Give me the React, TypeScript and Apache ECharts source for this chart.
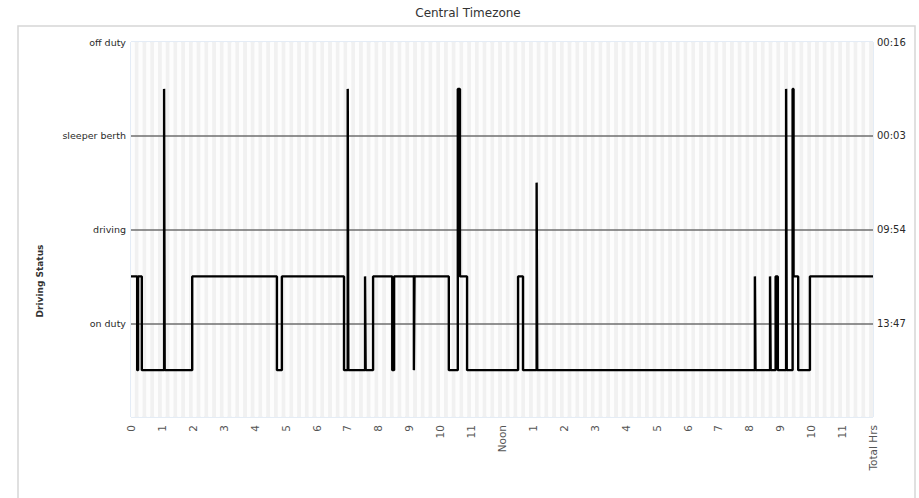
import React, { useEffect, useRef } from "react";
import * as echarts from "echarts";

// Hour labels for the x axis (0..24)
const hourLabels = [
  "0", "1", "2", "3", "4", "5", "6", "7", "8", "9", "10", "11",
  "Noon", "1", "2", "3", "4", "5", "6", "7", "8", "9", "10", "11", "Total Hrs",
];

// Status names on the left axis (value 1..4)
const statusLabels = ["", "on duty", "driving", "sleeper berth", "off duty"];
// Totals on the right axis (value 1..4)
const totalLabels = ["", "13:47", "09:54", "00:03", "00:16"];

// Step line: time (hours) at which the level changes, and the level from that time on
const changeTimes = [
  0, 0.2, 0.23, 0.35, 1.07, 1.09, 1.98, 4.72, 4.88, 6.89, 7.01, 7.03, 7.57, 7.59,
  7.83, 8.45, 8.51, 9.15, 9.17, 10.28, 10.57, 10.64, 10.87, 12.52, 12.68, 13.12,
  13.14, 20.18, 20.2, 20.67, 20.69, 20.85, 20.92, 21.19, 21.21, 21.4, 21.43,
  21.58, 21.96, 24,
];
const changeLevels = [
  1.5, 0.5, 1.5, 0.5, 3.5, 0.5, 1.5, 0.5, 1.5, 0.5, 3.5, 0.5, 1.5, 0.5,
  1.5, 0.5, 1.5, 0.5, 1.5, 0.5, 3.5, 1.5, 0.5, 1.5, 0.5, 2.5,
  0.5, 1.5, 0.5, 1.5, 0.5, 1.5, 0.5, 3.5, 0.5, 3.5, 1.5,
  0.5, 1.5, 1.5,
];

const FONT = "DejaVu Sans";

export default function App() {
  const ref = useRef<HTMLDivElement>(null);

  useEffect(() => {
    if (!ref.current) return;
    const chart = echarts.init(ref.current, undefined, { renderer: "svg" });
    const data = changeTimes.map((t, i) => [t, changeLevels[i]]);

    chart.setOption({
      animation: false,
      backgroundColor: "#ffffff",
      graphic: [
        {
          type: "rect",
          z: -10,
          shape: { x: 18, y: 26, width: 897, height: 490 },
          style: { fill: "none", stroke: "#d6d6d6", lineWidth: 1.5 },
        },
        {
          type: "text",
          x: 468,
          y: 13,
          style: {
            text: "Central Timezone",
            fontFamily: FONT,
            fontSize: 12,
            fill: "#333333",
            align: "center",
            verticalAlign: "middle",
          },
        },
        {
          type: "text",
          x: 40,
          y: 281,
          rotation: Math.PI / 2,
          style: {
            text: "Driving Status",
            fontFamily: FONT,
            fontSize: 9,
            fontWeight: "bold",
            fill: "#333333",
            align: "center",
            verticalAlign: "middle",
          },
        },
      ],
      grid: {
        left: 131,
        right: 46,
        top: 42,
        bottom: 81,
        show: true,
        borderColor: "#c9d9ec",
        borderWidth: 1,
        backgroundColor: "transparent",
      },
      xAxis: [
        {
          type: "value",
          min: 0,
          max: 24,
          interval: 1,
          axisLine: { show: false },
          axisTick: { show: false },
          splitLine: { show: false },
          axisLabel: {
            rotate: 90,
            margin: 8,
            fontFamily: FONT,
            fontSize: 10.5,
            color: "#555555",
            formatter: (v: number) => hourLabels[Math.round(v)] ?? "",
          },
        },
        {
          type: "value",
          min: 0,
          max: 24,
          interval: 0.125,
          position: "bottom",
          z: 0,
          axisLine: { show: false },
          axisTick: { show: false },
          axisLabel: { show: false },
          splitLine: { show: false },
          splitArea: {
            show: true,
            areaStyle: { color: ["#fdfdfd", "#f1f1f1"] },
          },
        },
      ],
      yAxis: [
        {
          type: "value",
          min: 0,
          max: 4,
          interval: 1,
          position: "left",
          z: 1,
          axisLine: { show: false },
          axisTick: { show: false },
          axisLabel: {
            margin: 5,
            fontFamily: FONT,
            fontSize: 9.5,
            color: "#2a2a2a",
            formatter: (v: number) => statusLabels[Math.round(v)] ?? "",
          },
          splitLine: {
            show: true,
            showMinLine: false,
            showMaxLine: false,
            lineStyle: { color: "#6e6e6e", width: 1.5 },
          },
        },
        {
          type: "value",
          min: 0,
          max: 4,
          interval: 1,
          position: "right",
          axisLine: { show: false },
          axisTick: { show: false },
          splitLine: { show: false },
          axisLabel: {
            margin: 4,
            fontFamily: FONT,
            fontSize: 10,
            color: "#2a2a2a",
            formatter: (v: number) => totalLabels[Math.round(v)] ?? "",
          },
        },
      ],
      series: [
        {
          type: "line",
          xAxisIndex: 0,
          yAxisIndex: 0,
          step: "end",
          symbol: "none",
          data,
          lineStyle: { color: "#000000", width: 2.4 },
          z: 5,
        },
      ],
    });

    return () => chart.dispose();
  }, []);

  return (
    <div
      ref={ref}
      style={{ position: "fixed", left: 0, top: 0, width: 919, height: 498 }}
    />
  );
}
